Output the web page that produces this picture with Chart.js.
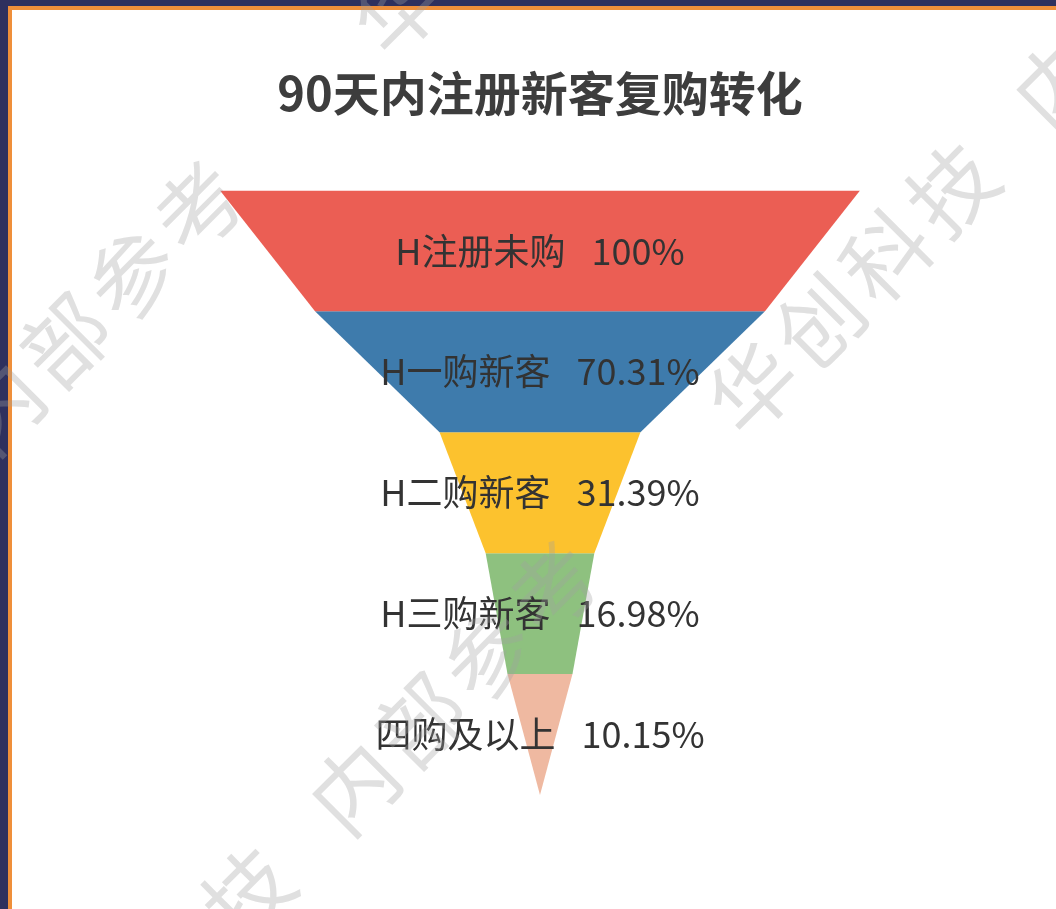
<!DOCTYPE html>
<html>
<head>
<meta charset="utf-8">
<script src="https://cdn.jsdelivr.net/npm/chart.js@4.4.1/dist/chart.umd.min.js"></script>
<style>
  html, body { margin: 0; padding: 0; }
  body { width: 1056px; height: 909px; overflow: hidden; position: relative; background: #2e305e; }
  #panel {
    position: absolute; left: 8px; top: 6px; width: 1048px; height: 903px;
    background: #ffffff; border-top: 4px solid #ef8f3a; border-left: 4px solid #ef8f3a;
    box-sizing: border-box;
  }
  #funnel { position: absolute; left: 0; top: 0; }
  .wm {
    position: absolute; white-space: nowrap; height: 100px; line-height: 100px;
    font-family: "Noto Sans CJK SC", sans-serif; font-weight: 400; font-size: 86px;
    letter-spacing: 8px; color: rgba(160,160,160,0.33);
    transform-origin: 0 50%; transform: rotate(-45deg); pointer-events: none;
  }
  .wm .g1 { display: inline-block; width: 56px; }
  .wm .g2 { display: inline-block; width: 188px; }
</style>
</head>
<body>
<div id="panel"></div>
<canvas id="funnel" width="1056" height="909"></canvas>
<div class="wm" style="left:15px; top:1070px;">华创科技<span class="g1"></span>内部参考<span class="g2"></span>华创科技<span class="g1"></span>内部参考</div>
<div class="wm" style="left:-340px; top:690px;">华创科技<span class="g1"></span>内部参考<span class="g2"></span>华创科技<span class="g1"></span>内部参考</div>
<script>
// 漏斗数据
const stages = ["H注册未购", "H一购新客", "H二购新客", "H三购新客", "四购及以上"];
const rates = [100, 70.31, 31.39, 16.98, 10.15];
const colors = ["#eb5e54", "#3e7bac", "#fcc22e", "#8ec17f", "#efb9a1"];

// ogni fascia e' un trapezio: sopra il valore, sotto il valore successivo
const datasets = stages.map(function (name, i) {
  const top = rates[i] / 100 / 2;
  const bottom = (i + 1 < rates.length ? rates[i + 1] : 0) / 100 / 2;
  return {
    label: name,
    data: [
      { x: -top, y: i },
      { x: top, y: i },
      { x: bottom, y: i + 1 },
      { x: -bottom, y: i + 1 },
      { x: -top, y: i },
    ],
    backgroundColor: colors[i],
    borderWidth: 0,
    pointRadius: 0,
    tension: 0,
    fill: "shape",
  };
});

// etichette al centro di ogni fascia
const funnelLabels = {
  id: "funnelLabels",
  afterDatasetsDraw(chart) {
    const c = chart.ctx;
    const xs = chart.scales.x;
    const ys = chart.scales.y;
    c.save();
    c.font = '36px "Noto Sans CJK SC", sans-serif';
    c.fillStyle = "#333333";
    c.textBaseline = "middle";
    c.textAlign = "left";
    const gap = 26;
    stages.forEach(function (name, i) {
      const value = rates[i] + "%";
      const w1 = c.measureText(name).width;
      const w2 = c.measureText(value).width;
      const cx = xs.getPixelForValue(0);
      const cy = ys.getPixelForValue(i + 0.5);
      const x0 = cx - (w1 + gap + w2) / 2;
      c.fillText(name, x0, cy);
      c.fillText(value, x0 + w1 + gap, cy);
    });
    c.restore();
  },
};

const chart = new Chart(document.getElementById("funnel").getContext("2d"), {
  type: "line",
  data: { datasets: datasets },
  options: {
    responsive: false,
    animation: false,
    devicePixelRatio: 1,
    layout: { padding: { top: 65, left: 220, right: 196, bottom: 114 } },
    scales: {
      x: { type: "linear", min: -0.5, max: 0.5, display: false },
      y: { type: "linear", min: 0, max: 5, reverse: true, display: false },
    },
    plugins: {
      legend: { display: false },
      tooltip: { enabled: false },
      title: {
        display: true,
        text: "90天内注册新客复购转化",
        color: "#3d3d3d",
        font: { family: '"Noto Sans CJK SC", sans-serif', size: 47, weight: "bold", lineHeight: 1.2 },
        padding: { top: 0, bottom: 69 },
      },
    },
  },
  plugins: [funnelLabels],
});
</script>
</body>
</html>
